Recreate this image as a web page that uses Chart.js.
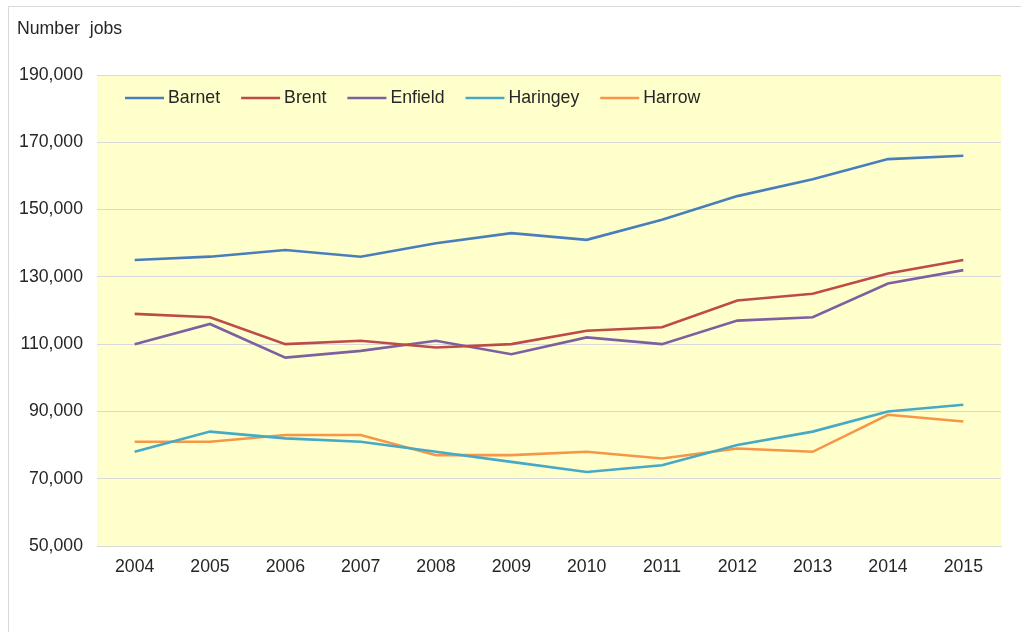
<!DOCTYPE html>
<html>
<head>
<meta charset="utf-8">
<script src="https://cdn.jsdelivr.net/npm/chart.js@4/dist/chart.umd.min.js"></script>
<style>
  html, body { margin: 0; padding: 0; background: #fff; }
  #wrap { width: 1021px; height: 632px; }
</style>
</head>
<body>
<div id="wrap"><canvas id="jobs_chart"></canvas></div>
<script>
var years = ['2004','2005','2006','2007','2008','2009','2010','2011','2012','2013','2014','2015'];
var barnet   = [135000,136000,138000,136000,140000,143000,141000,147000,154000,159000,165000,166000];
var brent    = [119000,118000,110000,111000,109000,110000,114000,115000,123000,125000,131000,135000];
var enfield  = [110000,116000,106000,108000,111000,107000,112000,110000,117000,118000,128000,132000];
var haringey = [78000,84000,82000,81000,78000,75000,72000,74000,80000,84000,90000,92000];
var harrow   = [81000,81000,83000,83000,77000,77000,78000,76000,79000,78000,89000,87000];
var yTicks   = [50000,70000,90000,110000,130000,150000,170000,190000];

var FONT = '"Liberation Sans", Arial, sans-serif';
var FSIZE = 17.7;
var TEXT = '#262626';

// yellow plot area + outer frame + "Number jobs" label
var backPlugin = {
	id: 'backPlugin',
	beforeDraw: function(chart){
		var c = chart.ctx, a = chart.chartArea;
		c.save();
		c.fillStyle = '#ffffcc';
		c.fillRect(a.left, a.top, a.right - a.left, a.bottom - a.top);
		c.strokeStyle = '#d9d9d9';
		c.lineWidth = 1;
		c.beginPath();
		c.moveTo(8.5, 640);
		c.lineTo(8.5, 6.5);
		c.lineTo(1030, 6.5);
		c.stroke();
		c.fillStyle = TEXT;
		c.font = FSIZE + 'px ' + FONT;
		c.textBaseline = 'middle';
		c.fillText('Number  jobs', 17, 29);
		c.restore();
	}
};

// legend sits inside the plot area, top left
var legendPlugin = {
	id: 'legendPlugin',
	afterDraw: function(chart){
		var c = chart.ctx, a = chart.chartArea;
		var x = a.left + 28, y = a.top + 23;
		c.save();
		c.font = FSIZE + 'px ' + FONT;
		c.textBaseline = 'middle';
		chart.data.datasets.forEach(function(ds){
			c.strokeStyle = ds.borderColor;
			c.lineWidth = 2.5;
			c.beginPath();
			c.moveTo(x, y);
			c.lineTo(x + 39, y);
			c.stroke();
			c.fillStyle = TEXT;
			c.fillText(ds.label, x + 43, y);
			x += 43 + c.measureText(ds.label).width + 21;
		});
		c.restore();
	}
};

function line(label, data, color){
	return {
		label: label,
		data: data,
		borderColor: color,
		backgroundColor: color,
		borderWidth: 2.6,
		pointRadius: 0,
		tension: 0,
		fill: false
	};
}

var ctx = document.getElementById('jobs_chart');
var jobsChart = new Chart(ctx, {
	type: 'line',
	data: {
		labels: years,
		datasets: [
			line('Barnet', barnet, '#4a7ebb'),
			line('Brent', brent, '#be4b48'),
			line('Enfield', enfield, '#7d60a0'),
			line('Haringey', haringey, '#46aac5'),
			line('Harrow', harrow, '#f79646')
		]
	},
	options: {
		responsive: true,
		maintainAspectRatio: false,
		animation: false,
		layout: { padding: { left: 8, right: 20, top: 75, bottom: 0 } },
		plugins: {
			legend: { display: false },
			tooltip: { enabled: false }
		},
		scales: {
			x: {
				offset: true,
				grid: { display: false, drawTicks: false },
				border: { display: true, color: '#d9d9d9', width: 1 },
				ticks: { color: TEXT, font: { family: FONT, size: FSIZE }, padding: 10, maxRotation: 0 },
				afterFit: function(scale){ scale.height = 632 - 546; }
			},
			y: {
				min: 50000,
				max: 190000,
				afterBuildTicks: function(scale){
					scale.ticks = yTicks.map(function(v){ return { value: v }; });
				},
				grid: { color: '#d9d9d9', lineWidth: 1, drawTicks: false },
				border: { display: false },
				ticks: {
					color: TEXT,
					font: { family: FONT, size: FSIZE },
					padding: 14,
					callback: function(v){ return v.toLocaleString('en-GB'); }
				},
				afterFit: function(scale){ scale.width = 89; }
			}
		}
	},
	plugins: [backPlugin, legendPlugin]
});
</script>
</body>
</html>
